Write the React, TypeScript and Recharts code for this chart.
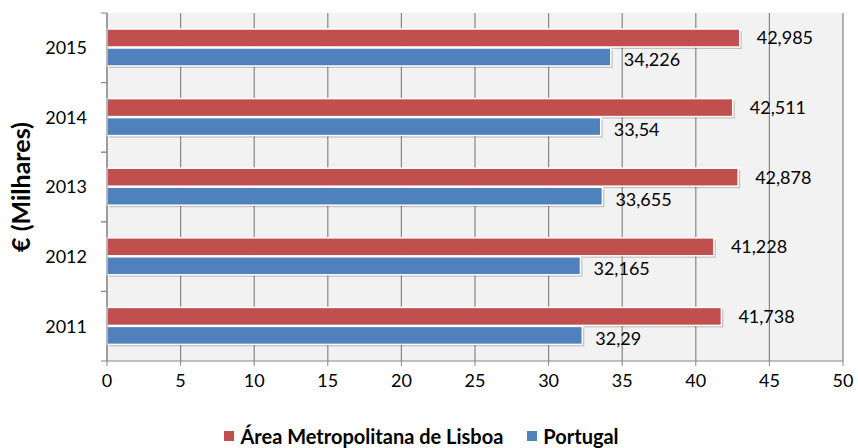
import { BarChart, Bar, XAxis, YAxis, CartesianGrid, Legend, LabelList } from "recharts";

const years = ["2011", "2012", "2013", "2014", "2015"];
const lisboa = [41.738, 41.228, 42.878, 42.511, 42.985];
const portugal = [32.29, 32.165, 33.655, 33.54, 34.226];
const xTicks = [0, 5, 10, 15, 20, 25, 30, 35, 40, 45, 50];

const RED = "#c0504d";
const BLUE = "#4f81bd";
const GRID = "#868686";
const FONT = "Lato, 'Open Sans', sans-serif";

const data = years.map((year, i) => ({ year, lisboa: lisboa[i], portugal: portugal[i] }));

const fmt = (v: number) => String(v).replace(".", ",");

const ShadowBar = (props: any) => {
  const { x, y, width, height, fill } = props;
  if (!width || width <= 0) return null;
  return (
    <g>
      <rect x={x + 2} y={y + 2} width={width} height={height} fill="rgba(0,0,0,0.2)" />
      <rect x={x} y={y} width={width} height={height} fill={fill} stroke="#fff" strokeWidth={1.5} />
    </g>
  );
};

const valueLabel = (offset: number, shift: number) => (props: any) => {
  const { x, y, width, height, value } = props;
  return (
    <text x={x + width + offset} y={y + height / 2 + shift} dy="0.35em" fill="#000" fontSize={18} fontFamily={FONT}>
      {fmt(value)}
    </text>
  );
};

const YearTick = (props: any) => {
  const { x, y, payload } = props;
  const half = payload?.offset || 34.8;
  const lx = x + 14;
  return (
    <g>
      <line x1={lx} x2={lx + 6} y1={y - half} y2={y - half} stroke={GRID} />
      <line x1={lx} x2={lx + 6} y1={y + half} y2={y + half} stroke={GRID} />
      <text x={x} y={y} dy="0.35em" textAnchor="end" fill="#000" fontSize={18} fontFamily={FONT}>
        {payload.value}
      </text>
    </g>
  );
};

const YLabel = (props: any) => {
  const { viewBox } = props;
  const cx = 21;
  const cy = viewBox.y + viewBox.height / 2;
  return (
    <text x={cx} y={cy} transform={`rotate(-90, ${cx}, ${cy})`} textAnchor="middle" dy="0.35em"
      fill="#000" fontSize={25} fontWeight="bold" fontFamily={FONT}>
      € (Milhares)
    </text>
  );
};

const LegendContent = () => (
  <div style={{ display: "flex", justifyContent: "center", gap: 24, height: 20, lineHeight: "20px", fontFamily: FONT, fontWeight: "bold", fontSize: 20, color: "#000" }}>
    {[{ name: "Área Metropolitana de Lisboa", color: RED }, { name: "Portugal", color: BLUE }].map((item) => (
      <span key={item.name} style={{ display: "flex", alignItems: "center" }}>
        <span style={{ width: 10, height: 10, background: item.color, marginRight: 6, display: "inline-block" }} />
        {item.name}
      </span>
    ))}
  </div>
);

export default function App() {
  return (
    <div style={{ width: 858, height: 448 }}>
      <style>{`body{margin:0}`}</style>
      <BarChart
        width={858}
        height={448}
        layout="vertical"
        data={data}
        margin={{ top: 13, right: 15, left: 0, bottom: 0 }}
        barSize={18}
        barGap={1}
      >
        <CartesianGrid horizontal={false} vertical={true} stroke={GRID} fill="#f2f2f2" strokeWidth={1.2} />
        <XAxis
          type="number"
          domain={[0, 50]}
          ticks={xTicks}
          interval={0}
          height={67}
          tickSize={5}
          tickMargin={8}
          stroke={GRID}
          tick={{ fill: "#000", fontSize: 18, fontFamily: FONT }}
        />
        <YAxis
          type="category"
          dataKey="year"
          reversed
          width={107}
          stroke={GRID}
          tickLine={false}
          tickSize={6}
          tickMargin={14}
          tick={<YearTick />}
          label={<YLabel />}
        />
        <Legend
          verticalAlign="bottom"
          content={<LegendContent />}
          wrapperStyle={{ bottom: 2 }}
        />
        <Bar dataKey="lisboa" name="Área Metropolitana de Lisboa" fill={RED} shape={<ShadowBar />} isAnimationActive={false}>
          <LabelList dataKey="lisboa" content={valueLabel(17, 0)} />
        </Bar>
        <Bar dataKey="portugal" name="Portugal" fill={BLUE} shape={<ShadowBar />} isAnimationActive={false}>
          <LabelList dataKey="portugal" content={valueLabel(13, 3)} />
        </Bar>
      </BarChart>
    </div>
  );
}
